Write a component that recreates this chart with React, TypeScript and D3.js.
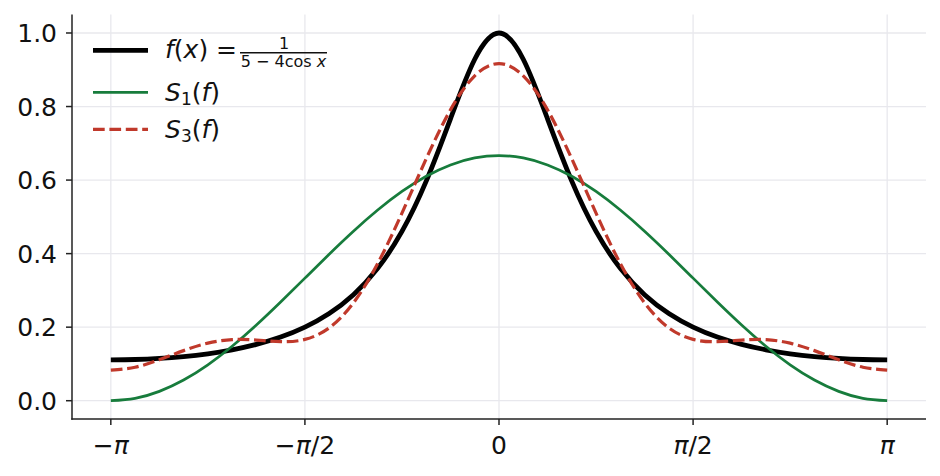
import React, { useEffect, useRef } from "react";
import * as d3 from "d3";

// x positions in units of pi (-pi .. pi, step pi/16)
const xPi = [
  -1, -0.9375, -0.875, -0.8125, -0.75, -0.6875, -0.625, -0.5625, -0.5, -0.4375, -0.375,
  -0.3125, -0.25, -0.1875, -0.125, -0.0625, 0, 0.0625, 0.125, 0.1875, 0.25, 0.3125, 0.375,
  0.4375, 0.5, 0.5625, 0.625, 0.6875, 0.75, 0.8125, 0.875, 0.9375, 1,
];

const fValues = [
  0.1111, 0.1121, 0.115, 0.1201, 0.1277, 0.1385, 0.1531, 0.173, 0.2, 0.237, 0.2882, 0.36,
  0.4605, 0.5973, 0.7666, 0.9286, 1.0, 0.9286, 0.7666, 0.5973, 0.4605, 0.36, 0.2882, 0.237,
  0.2, 0.173, 0.1531, 0.1385, 0.1277, 0.1201, 0.115, 0.1121, 0.1111,
];

const s1Values = [
  0, 0.0064, 0.0254, 0.0562, 0.0976, 0.1481, 0.2058, 0.2683, 0.3333, 0.3984, 0.4609, 0.5185,
  0.569, 0.6105, 0.6413, 0.6603, 0.6667, 0.6603, 0.6413, 0.6105, 0.569, 0.5185, 0.4609,
  0.3984, 0.3333, 0.2683, 0.2058, 0.1481, 0.0976, 0.0562, 0.0254, 0.0064, 0,
];

const s3Values = [
  0.0833, 0.0911, 0.1114, 0.1362, 0.1565, 0.1661, 0.1649, 0.1606, 0.1667, 0.1981, 0.2661,
  0.373, 0.5101, 0.658, 0.791, 0.8836, 0.9167, 0.8836, 0.791, 0.658, 0.5101, 0.373, 0.2661,
  0.1981, 0.1667, 0.1606, 0.1649, 0.1661, 0.1565, 0.1362, 0.1114, 0.0911, 0.0833,
];

const xTicks = [-1, -0.5, 0, 0.5, 1];
const xTickLabels = [
  ["\u2212", "\u03c0", ""],
  ["\u2212", "\u03c0", "/2"],
  ["0", "", ""],
  ["", "\u03c0", "/2"],
  ["", "\u03c0", ""],
];
const yTicks = [0, 0.2, 0.4, 0.6, 0.8, 1.0];

const FONT = "DejaVu Sans, sans-serif";

export default function App() {
  const ref = useRef<SVGSVGElement>(null);

  useEffect(() => {
    if (!ref.current) return;
    const svg = d3.select(ref.current);
    svg.selectAll("*").remove();

    const left = 72;
    const right = 926;
    const top = 14.6;
    const bottom = 419.1;

    const x = d3.scaleLinear().domain([-1.1, 1.1]).range([left, right]);
    const y = d3.scaleLinear().domain([-0.05, 1.05]).range([bottom, top]);

    svg.append("rect").attr("width", 940).attr("height", 476).attr("fill", "#fff");

    // grid
    const grid = svg.append("g").attr("stroke", "#e8e8ed").attr("stroke-width", 1.3);
    xTicks.forEach((t) => {
      grid.append("line").attr("x1", x(t)).attr("x2", x(t)).attr("y1", top).attr("y2", bottom);
    });
    yTicks.forEach((t) => {
      grid.append("line").attr("x1", left).attr("x2", right).attr("y1", y(t)).attr("y2", y(t));
    });

    const series = [
      { values: fValues, color: "#000000", width: 4.8, dash: null },
      { values: s1Values, color: "#177c3c", width: 2.7, dash: null },
      { values: s3Values, color: "#c0392b", width: 3.2, dash: "11.7,4.7" },
    ];

    const line = d3
      .line<number>()
      .x((_, i) => x(xPi[i]))
      .y((d) => y(d))
      .curve(d3.curveNatural);

    series.forEach((s) => {
      const p = svg
        .append("path")
        .datum(s.values)
        .attr("fill", "none")
        .attr("stroke", s.color)
        .attr("stroke-width", s.width)
        .attr("d", line);
      if (s.dash) p.attr("stroke-dasharray", s.dash);
    });

    // spines
    const axes = svg.append("g").attr("stroke", "#222").attr("stroke-width", 1.5);
    axes.append("line").attr("x1", left).attr("x2", left).attr("y1", top).attr("y2", bottom + 0.75);
    axes.append("line").attr("x1", left - 0.75).attr("x2", right).attr("y1", bottom).attr("y2", bottom);

    // ticks
    xTicks.forEach((t, i) => {
      axes.append("line").attr("x1", x(t)).attr("x2", x(t)).attr("y1", bottom).attr("y2", bottom + 6);
      const lab = xTickLabels[i];
      const txt = svg
        .append("text")
        .attr("x", x(t))
        .attr("y", 454)
        .attr("text-anchor", "middle")
        .attr("font-family", FONT)
        .attr("font-size", 25)
        .attr("fill", "#111");
      if (lab[0]) txt.append("tspan").text(lab[0]);
      if (lab[1]) txt.append("tspan").attr("font-style", "italic").text(lab[1]);
      if (lab[2]) txt.append("tspan").text(lab[2]);
    });

    yTicks.forEach((t) => {
      axes.append("line").attr("x1", left - 6).attr("x2", left).attr("y1", y(t)).attr("y2", y(t));
      svg
        .append("text")
        .attr("x", 57)
        .attr("y", y(t) + 9.2)
        .attr("text-anchor", "end")
        .attr("font-family", FONT)
        .attr("font-size", 25)
        .attr("fill", "#111")
        .text(t.toFixed(1));
    });

    // legend
    const legend = svg.append("g").attr("font-family", FONT).attr("fill", "#111");
    const rows = [50.4, 92.3, 129.3];
    series.forEach((s, i) => {
      const l = legend
        .append("line")
        .attr("x1", 93)
        .attr("x2", 148)
        .attr("y1", rows[i])
        .attr("y2", rows[i])
        .attr("stroke", s.color)
        .attr("stroke-width", s.width);
      if (s.dash) l.attr("stroke-dasharray", s.dash);
    });

    const t0 = legend.append("text").attr("x", 165).attr("y", 58).attr("font-size", 25);
    t0.append("tspan").attr("font-style", "italic").text("f");
    t0.append("tspan").text("(");
    t0.append("tspan").attr("font-style", "italic").text("x");
    t0.append("tspan").text(") =");
    legend
      .append("line")
      .attr("x1", 240)
      .attr("x2", 327)
      .attr("y1", 52.7)
      .attr("y2", 52.7)
      .attr("stroke", "#111")
      .attr("stroke-width", 1.5);
    legend
      .append("text")
      .attr("x", 284)
      .attr("y", 48.6)
      .attr("text-anchor", "middle")
      .attr("font-size", 16)
      .text("1");
    const den = legend
      .append("text")
      .attr("x", 283.5)
      .attr("y", 67)
      .attr("text-anchor", "middle")
      .attr("font-size", 16);
    den.append("tspan").text("5 \u2212 4cos ");
    den.append("tspan").attr("font-style", "italic").text("x");

    [
      { n: "1", y: rows[1] + 9 },
      { n: "3", y: rows[2] + 9 },
    ].forEach((r) => {
      const t = legend.append("text").attr("x", 165).attr("y", r.y).attr("font-size", 25);
      t.append("tspan").attr("font-style", "italic").text("S");
      t.append("tspan").attr("font-size", 17).attr("dy", 4).text(r.n);
      t.append("tspan").attr("dy", -4).text("(");
      t.append("tspan").attr("font-style", "italic").text("f");
      t.append("tspan").text(")");
    });
  }, []);

  return (
    <svg
      ref={ref}
      width={940}
      height={476}
      style={{ position: "absolute", left: 0, top: 0, display: "block" }}
    />
  );
}
